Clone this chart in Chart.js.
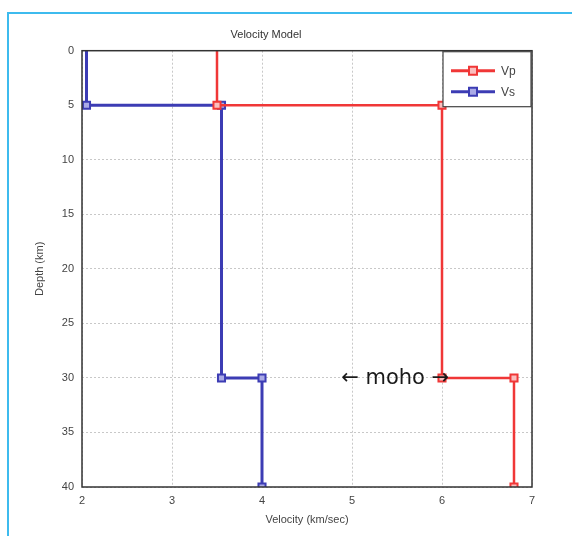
<!DOCTYPE html>
<html>
<head>
<meta charset="utf-8">
<script src="https://cdn.jsdelivr.net/npm/chart.js@4"></script>
<style>
  html, body { margin: 0; padding: 0; background: #fff; }
  #wrap { position: relative; width: 572px; height: 536px; overflow: hidden; }
  #frame { position: absolute; left: 7px; top: 12px; width: 600px; height: 600px;
           border-left: 2px solid #3dbbee; border-top: 2px solid #3dbbee; box-sizing: border-box; }
  canvas { position: absolute; left: 0; top: 0; }
</style>
</head>
<body>
<div id="wrap">
  <div id="frame"></div>
  <canvas id="c" width="572" height="536"></canvas>
</div>
<script>
// ---- data ----
const depths = [0, 5, 5, 30, 30, 40];
const vpVelocity = [3.5, 3.5, 6.0, 6.0, 6.8, 6.8];
const vsVelocity = [2.05, 2.05, 3.55, 3.55, 4.0, 4.0];
const seriesLabels = ['Vp', 'Vs'];
const xTicks = [2, 3, 4, 5, 6, 7];
const yTicks = [0, 5, 10, 15, 20, 25, 30, 35, 40];
const annotationText = '\u2190 moho \u2192';
const annotationX = 5.48;
const annotationY = 30;

const RED = 'rgb(240,55,55)';
const BLUE = 'rgb(60,60,180)';
const FONT = "'Liberation Sans', Arial, sans-serif";

function pts(xs) { return xs.map((v, i) => ({ x: v, y: depths[i] })); }

const framePlugin = {
  id: 'framePlugin',
  afterDatasetsDraw(chart) {
    const { ctx, chartArea: a } = chart;
    ctx.save();
    ctx.strokeStyle = '#333';
    ctx.lineWidth = 1.5;
    ctx.strokeRect(a.left, a.top, a.right - a.left, a.bottom - a.top);
    // annotation
    const xs = chart.scales.x, ys = chart.scales.y;
    ctx.fillStyle = '#1a1a1a';
    ctx.font = "21px 'DejaVu Sans', sans-serif";
    ctx.textAlign = 'center';
    ctx.textBaseline = 'middle';
    ctx.fillText(annotationText, xs.getPixelForValue(annotationX), ys.getPixelForValue(annotationY) + 1);
    // legend
    const bw = 88, bh = 55;
    const bx = a.right - bw - 1, by = a.top + 1;
    ctx.fillStyle = '#fff';
    ctx.fillRect(bx, by, bw, bh);
    ctx.strokeStyle = '#444';
    ctx.lineWidth = 1.2;
    ctx.strokeRect(bx, by, bw, bh);
    chart.data.datasets.forEach((ds, i) => {
      const ly = by + 19 + i * 21;
      ctx.strokeStyle = ds.borderColor;
      ctx.lineWidth = 3;
      ctx.beginPath();
      ctx.moveTo(bx + 8, ly);
      ctx.lineTo(bx + 52, ly);
      ctx.stroke();
      ctx.lineWidth = 2;
      ctx.fillStyle = ds.pointBackgroundColor;
      ctx.beginPath();
      ctx.rect(bx + 26, ly - 4, 8, 8);
      ctx.fill();
      ctx.stroke();
      ctx.fillStyle = '#444';
      ctx.font = '12px ' + FONT;
      ctx.textAlign = 'left';
      ctx.textBaseline = 'middle';
      ctx.fillText(ds.label, bx + 58, ly + 1);
    });
    ctx.restore();
  }
};

new Chart(document.getElementById('c'), {
  type: 'scatter',
  data: {
    datasets: [
      {
        label: seriesLabels[0],
        data: pts(vpVelocity),
        showLine: true,
        borderColor: RED,
        borderWidth: 2.5,
        pointStyle: 'rect',
        pointRadius: [0, 5, 5, 5, 5, 5],
        pointBorderWidth: 2,
        pointBorderColor: RED,
        pointBackgroundColor: 'rgb(250,190,190)'
      },
      {
        label: seriesLabels[1],
        data: pts(vsVelocity),
        showLine: true,
        borderColor: BLUE,
        borderWidth: 3,
        pointStyle: 'rect',
        pointRadius: [0, 5, 5, 5, 5, 5],
        pointBorderWidth: 2,
        pointBorderColor: BLUE,
        pointBackgroundColor: 'rgb(170,170,230)'
      }
    ]
  },
  options: {
    responsive: false,
    animation: false,
    layout: { padding: { left: 0, right: 40, top: 0, bottom: 0 } },
    plugins: {
      legend: { display: false },
      tooltip: { enabled: false },
      title: {
        display: true,
        text: 'Velocity Model',
        color: '#333',
        font: { family: FONT, size: 11, weight: 'normal' },
        padding: { top: 28, bottom: 9.5 }
      }
    },
    scales: {
      x: {
        type: 'linear',
        min: 2, max: 7,
        afterBuildTicks(s) { s.ticks = xTicks.map(v => ({ value: v })); },
        afterFit(s) { s.height = 49; },
        grid: { color: '#c8c8c8', drawTicks: false },
        border: { display: false, dash: [2, 2] },
        ticks: { color: '#444', font: { family: FONT, size: 11 }, padding: 7 },
        title: { display: true, text: 'Velocity (km/sec)', color: '#444',
                 font: { family: FONT, size: 11 }, padding: { top: 0, bottom: 9.5 } }
      },
      y: {
        type: 'linear',
        reverse: true,
        min: 0, max: 40,
        afterBuildTicks(s) { s.ticks = yTicks.map(v => ({ value: v })); },
        afterFit(s) { s.width = 82; },
        grid: { color: '#c8c8c8', drawTicks: false },
        border: { display: false, dash: [2, 2] },
        ticks: { color: '#444', font: { family: FONT, size: 11 }, padding: 8 },
        title: { display: true, text: 'Depth (km)', color: '#444',
                 font: { family: FONT, size: 11 }, padding: { top: 33, bottom: 0 } }
      }
    }
  },
  plugins: [framePlugin]
});
</script>
</body>
</html>
